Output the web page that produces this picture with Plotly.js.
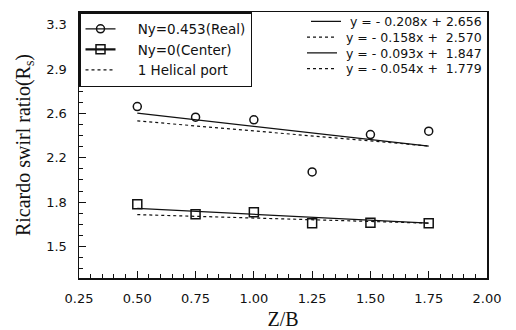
<!DOCTYPE html>
<html>
<head>
<meta charset="utf-8">
<script src="https://cdn.plot.ly/plotly-3.0.1.min.js"></script>
<style>html,body{margin:0;padding:0;background:#fff;}#chart{width:516px;height:330px;}</style>
</head>
<body>
<div id="chart"></div>
<script>
// ---- data ----
var zb = [0.50, 0.75, 1.00, 1.25, 1.50, 1.75];
var swirlReal = [2.604, 2.52, 2.50, 2.089, 2.383, 2.41];      // Ny=0.453 (Real)
var swirlCenter = [1.834, 1.754, 1.77, 1.684, 1.687, 1.684];   // Ny=0 (Center)
// regression fits shown in the legend
var fitSlopes = [-0.208, -0.158, -0.093, -0.054];
var fitIntercepts = [2.656, 2.570, 1.847, 1.779];
var fitLabels = ['y = - 0.208x + 2.656', 'y = - 0.158x +  2.570', 'y = - 0.093x +  1.847', 'y = - 0.054x +  1.779'];
var fitRange = [0.50, 1.75];
var seriesNames = ['Ny=0.453(Real)', 'Ny=0(Center)', '1 Helical port'];
var yTickVals = [1.5, 1.85, 2.2, 2.55, 2.9, 3.25];
var yTickText = ['1.5', '1.8', '2.2', '2.6', '2.9', '3.3'];
var xTickVals = [0.25, 0.50, 0.75, 1.00, 1.25, 1.50, 1.75, 2.00];
var xTickText = ['0.25', '0.50', '0.75', '1.00', '1.25', '1.50', '1.75', '2.00'];

// points separated by gaps so no connecting line is drawn, legend still shows line+marker
function gapped(arr) { var out = []; arr.forEach(function (v, i) { out.push(v); if (i < arr.length - 1) out.push(null); }); return out; }
var NB = '\u00a0';
function pad(n) { return new Array(n + 1).join(NB); }
function keepSpaces(s) { return s.replace(/ /g, NB); }

var ink = '#111';
var fitStyles = [
  {dash: 'solid', width: 1.3},
  {dash: 'dot', width: 1.2},
  {dash: 'solid', width: 1.3},
  {dash: 'dot', width: 1.2}
];

var traces = [];
fitSlopes.forEach(function (m, i) {
  traces.push({
    type: 'scatter', mode: 'lines',
    x: fitRange.slice(),
    y: fitRange.map(function (x) { return m * x + fitIntercepts[i]; }),
    name: pad(1) + keepSpaces(fitLabels[i]),
    line: {color: ink, width: fitStyles[i].width, dash: fitStyles[i].dash},
    legend: 'legend' + (i + 2),
    hoverinfo: 'skip'
  });
});
traces.push({
  type: 'scatter', mode: 'lines+markers',
  x: gapped(zb), y: gapped(swirlReal), connectgaps: false,
  name: pad(4) + seriesNames[0],
  line: {color: ink, width: 1.2},
  marker: {symbol: 'circle-open', size: 8, color: ink, line: {width: 1.5, color: ink}},
  legend: 'legend'
});
traces.push({
  type: 'scatter', mode: 'lines+markers',
  x: gapped(zb), y: gapped(swirlCenter), connectgaps: false,
  name: pad(4) + seriesNames[1],
  line: {color: ink, width: 2.2},
  marker: {symbol: 'square-open', size: 9, color: ink, line: {width: 1.5, color: ink}},
  legend: 'legend'
});
traces.push({
  type: 'scatter', mode: 'lines',
  x: [null], y: [null],
  name: pad(4) + seriesNames[2],
  line: {color: ink, width: 1.2, dash: 'dot'},
  legend: 'legend'
});

var legFont = {family: 'DejaVu Sans, Arial, sans-serif', size: 12.5, color: ink};
var eqY = [0.963, 0.904, 0.845, 0.786];
var layout = {
  width: 516, height: 330,
  margin: {l: 79, r: 29, t: 7, b: 52},
  paper_bgcolor: '#fff', plot_bgcolor: '#fff',
  showlegend: true,
  font: {family: 'DejaVu Sans, Arial, sans-serif', size: 13, color: ink},
  xaxis: {
    range: [0.25, 2.0],
    tickmode: 'array', tickvals: xTickVals, ticktext: xTickText,
    ticks: 'inside', ticklen: 7, tickwidth: 1.2, tickcolor: ink,
    minor: {tickmode: 'linear', tick0: 0.25, dtick: 0.05, ticks: 'inside', ticklen: 4, tickwidth: 1, tickcolor: ink, showgrid: false},
    showgrid: false, zeroline: false,
    showline: true, linecolor: ink, linewidth: 1.5, mirror: true,
    ticklabelstandoff: 8,
    tickfont: {family: 'DejaVu Sans, Arial, sans-serif', size: 13, color: ink},
    title: {text: 'Z/B', font: {family: 'Liberation Serif, Times New Roman, serif', size: 20, color: ink}, standoff: 8}
  },
  yaxis: {
    range: [1.252, 3.35],
    tickmode: 'array', tickvals: yTickVals, ticktext: yTickText,
    ticks: 'inside', ticklen: 7, tickwidth: 1.2, tickcolor: ink,
    minor: {tickmode: 'linear', tick0: 1.5, dtick: 0.0875, ticks: 'inside', ticklen: 4, tickwidth: 1, tickcolor: ink, showgrid: false},
    showgrid: false, zeroline: false,
    showline: true, linecolor: ink, linewidth: 1.5, mirror: true,
    ticklabelstandoff: 8,
    tickfont: {family: 'DejaVu Sans, Arial, sans-serif', size: 13, color: ink},
    title: {text: 'Ricardo swirl ratio(R<sub>s</sub>)', font: {family: 'Liberation Serif, Times New Roman, serif', size: 20, color: ink}, standoff: 10}
  },
  legend: {
    x: 0, y: 1, xanchor: 'left', yanchor: 'top',
    bgcolor: '#fff', bordercolor: ink, borderwidth: 1.5,
    font: {family: 'DejaVu Sans, Arial, sans-serif', size: 13.5, color: ink},
    tracegroupgap: 0, traceorder: 'normal'
  }
};
for (var k = 0; k < 4; k++) {
  layout['legend' + (k + 2)] = {
    x: 1, y: eqY[k], xanchor: 'right', yanchor: 'middle',
    bgcolor: 'rgba(0,0,0,0)', borderwidth: 0,
    font: legFont
  };
}
Plotly.newPlot('chart', traces, layout, {displayModeBar: false, staticPlot: true});
</script>
</body>
</html>
